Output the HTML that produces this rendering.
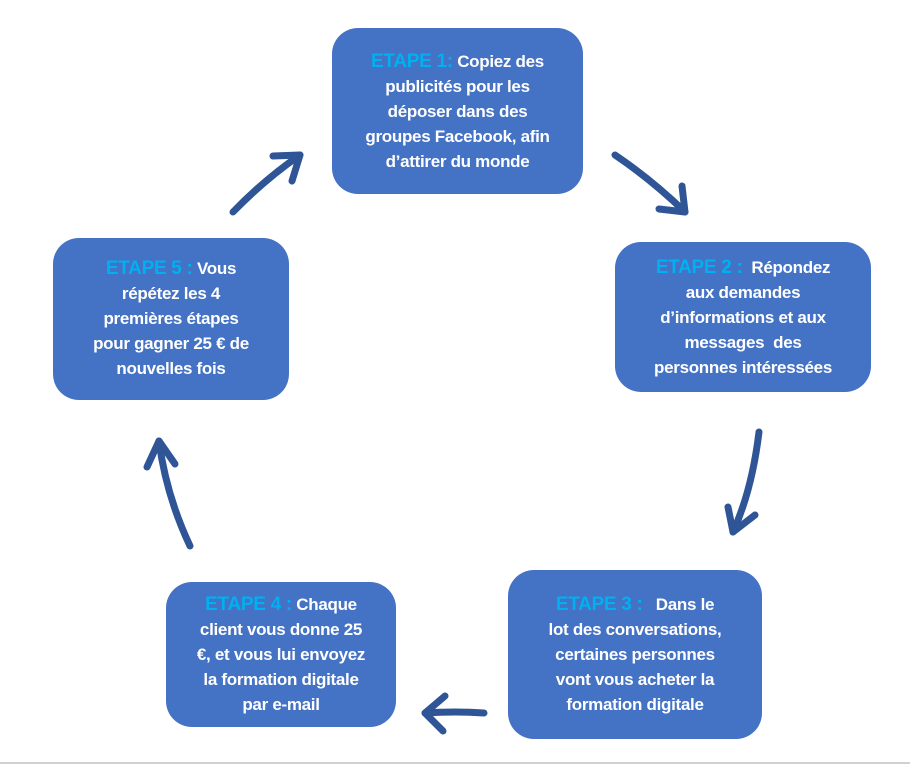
<!DOCTYPE html>
<html><head><meta charset="utf-8"><style>
body{margin:0;width:910px;height:765px;background:#fff;position:relative;overflow:hidden;font-family:"Liberation Sans",sans-serif}
.b{position:absolute;background:#4472C4;border-radius:26px;color:#fff;font-weight:bold;font-size:17px;line-height:25px;text-align:center;display:flex;align-items:center;justify-content:center;letter-spacing:-0.3px}
.b div{width:100%}
.l{color:#00B0F0;font-size:19px}
svg{position:absolute;left:0;top:0}
</style></head><body>
<div class="b" style="left:332px;top:28px;width:251px;height:166px"><div><span class="l">ETAPE 1:</span> Copiez des<br>publicités pour les<br>déposer dans des<br>groupes Facebook, afin<br>d’attirer du monde</div></div>
<div class="b" style="left:615px;top:242px;width:256px;height:150px"><div><span class="l">ETAPE 2 :</span> &nbsp;Répondez<br>aux demandes<br>d’informations et aux<br>messages &nbsp;des<br>personnes intéressées</div></div>
<div class="b" style="left:508px;top:570px;width:254px;height:169px;align-items:flex-start;padding-top:22px;box-sizing:border-box"><div><span class="l">ETAPE 3 :</span> &nbsp;&nbsp;Dans le<br>lot des conversations,<br>certaines personnes<br>vont vous acheter la<br>formation digitale</div></div>
<div class="b" style="left:166px;top:582px;width:230px;height:145px;align-items:flex-start;padding-top:10px;box-sizing:border-box"><div><span class="l">ETAPE 4 :</span> Chaque<br>client vous donne 25<br>€, et vous lui envoyez<br>la formation digitale<br>par e-mail</div></div>
<div class="b" style="left:53px;top:238px;width:236px;height:162px;align-items:flex-start;padding-top:18px;box-sizing:border-box"><div><span class="l">ETAPE 5 :</span> Vous<br>répétez les 4<br>premières étapes<br>pour gagner 25 € de<br>nouvelles fois</div></div>
<svg width="910" height="765" fill="none" stroke="#2F5597" stroke-width="7" stroke-linecap="round" stroke-linejoin="round">
<path d="M233 212 Q264 180 300 155"/><path d="M273 156 L300 155 L292 181"/>
<path d="M615 155 Q652 180 685 212"/><path d="M659 209 L685 212 L682 186"/>
<path d="M759 432 Q752 490 733 532"/><path d="M728 507 L733 532 L755 515"/>
<path d="M484 713 Q455 711 425 713"/><path d="M445 696 L425 713 L443 731"/>
<path d="M190 546 Q166 495 159 441"/><path d="M147 467 L159 441 L175 464"/>
</svg>
<div style="position:absolute;left:0;top:762px;width:910px;height:2px;background:#d0d0d0"></div>
</body></html>
